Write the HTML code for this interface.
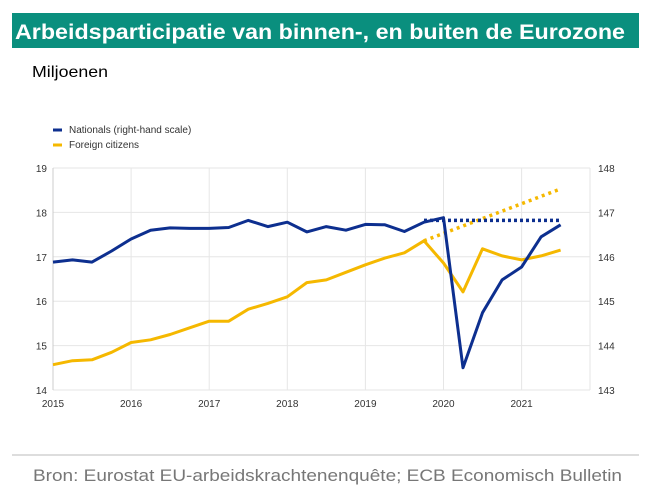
<!DOCTYPE html>
<html><head><meta charset="utf-8"><style>
body{margin:0;background:#fff;width:659px;height:496px;overflow:hidden;font-family:"Liberation Sans",Arial,sans-serif}
</style></head><body>
<svg width="659" height="496">
<rect x="12" y="13" width="627" height="35" fill="#0a8f7e"/>
<text x="15" y="39" fill="#fff" font-size="21" font-weight="bold" textLength="610" lengthAdjust="spacingAndGlyphs">Arbeidsparticipatie van binnen-, en buiten de Eurozone</text>
<text x="32" y="77" font-size="16" fill="#000" textLength="76" lengthAdjust="spacingAndGlyphs">Miljoenen</text>
<g id="plot"></g>
<line x1="12" y1="455" x2="639" y2="455" stroke="#bbb"/>
<text x="33" y="481" font-size="17" fill="#777" textLength="589" lengthAdjust="spacingAndGlyphs">Bron: Eurostat EU-arbeidskrachtenenquête; ECB Economisch Bulletin</text>
</svg>
<script>
const years=[2015,2016,2017,2018,2019,2020,2021];
const leftTicks=[14,15,16,17,18,19];
const rightTicks=[143,144,145,146,147,148];
const quarters=[2015,2015.25,2015.5,2015.75,2016,2016.25,2016.5,2016.75,2017,2017.25,2017.5,2017.75,2018,2018.25,2018.5,2018.75,2019,2019.25,2019.5,2019.75,2020,2020.25,2020.5,2020.75,2021,2021.25,2021.5];
const nationals=[145.88,145.93,145.88,146.13,146.4,146.6,146.65,146.64,146.64,146.66,146.82,146.68,146.78,146.56,146.68,146.6,146.73,146.72,146.57,146.78,146.88,143.5,144.74,145.48,145.77,146.45,146.72];
const foreign=[14.57,14.66,14.68,14.85,15.07,15.13,15.25,15.4,15.55,15.55,15.82,15.95,16.1,16.42,16.48,16.65,16.82,16.97,17.09,17.36,16.86,16.21,17.18,17.02,16.93,17.02,17.15];
const natTrendX=[2019.75,2021.5], natTrend=[146.82,146.82];
const forTrendX=[2019.75,2021.5], forTrend=[17.36,18.53];

const NS="http://www.w3.org/2000/svg";
const g=document.getElementById('plot');
const X0=53,X1=590,T=168,B=390;
const xs=v=>53+(v-2015)*78.1;
const yl=v=>B-(v-14)*(B-T)/5;
const yr=v=>B-(v-143)*(B-T)/5;
function mk(tag,attrs){const e=document.createElementNS(NS,tag);for(const k in attrs)e.setAttribute(k,attrs[k]);g.appendChild(e);return e;}
leftTicks.forEach(t=>{
  const l=mk('line',{x1:X0,x2:X1,y1:yl(t),y2:yl(t),stroke:'#e6e6e6'});
  
  
  const tx=mk('text',{x:47,y:yl(t)+4,'font-size':10,fill:'#333','text-anchor':'end'});tx.textContent=t;
  
  
});
rightTicks.forEach(t=>{
  const tx=mk('text',{x:598,y:yr(t)+4,'font-size':10,fill:'#333'});tx.textContent=t;
  
  
});
years.forEach(y=>{
  const l=mk('line',{x1:xs(y),x2:xs(y),y1:T,y2:B,stroke:'#e6e6e6'});
  
  
  const tx=mk('text',{x:xs(y),y:407,'font-size':10,fill:'#333','text-anchor':'middle'});tx.textContent=y;
  
  
});
const ax=mk('line',{x1:X0,x2:X0,y1:T,y2:B,stroke:'#ccc'});


const ax2=mk('line',{x1:X1,x2:X1,y1:T,y2:B,stroke:'#e6e6e6'});


function pts(xa,ya,f){return xa.map((x,i)=>xs(x).toFixed(1)+','+f(ya[i]).toFixed(1)).join(' ');}
const ft=mk('polyline',{points:pts(forTrendX,forTrend,yl),fill:'none',stroke:'#f5b800','stroke-width':3.5,'stroke-dasharray':'3 4'});


const nt=mk('polyline',{points:pts(natTrendX,natTrend,yr),fill:'none',stroke:'#0d2f8f','stroke-width':3.5,'stroke-dasharray':'3 3'});


const fl=mk('polyline',{points:pts(quarters,foreign,yl),fill:'none',stroke:'#f5b800','stroke-width':3,'stroke-linejoin':'round'});


const nl=mk('polyline',{points:pts(quarters,nationals,yr),fill:'none',stroke:'#0d2f8f','stroke-width':3,'stroke-linejoin':'round'});


[['#0d2f8f','Nationals (right-hand scale)',133,'legend-nationals'],['#f5b800','Foreign citizens',148,'legend-foreign']].forEach(d=>{
  const l=mk('line',{x1:53,x2:62,y1:d[2]-3,y2:d[2]-3,stroke:d[0],'stroke-width':3});
  
  
  const tx=mk('text',{x:69,y:d[2],'font-size':10,fill:'#333'});tx.textContent=d[1];
  
  
});
</script>
</body></html>
